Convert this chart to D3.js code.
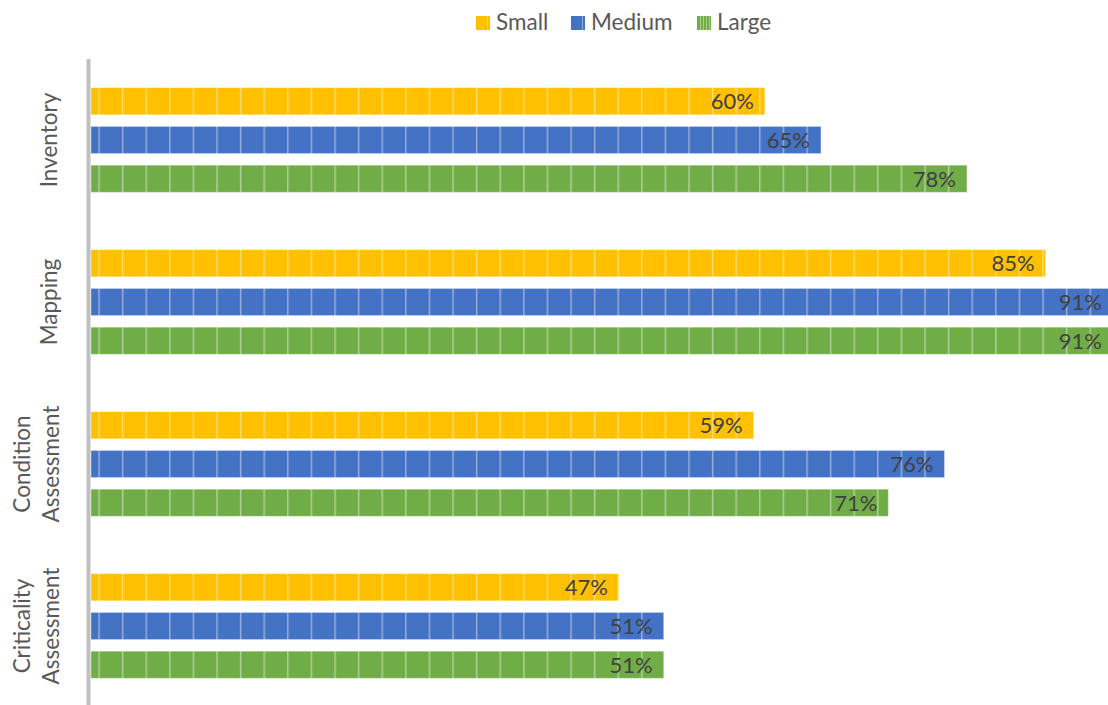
<html>
<meta charset='utf-8'>
<head>
    <script src="https://d3js.org/d3.v7.min.js"></script>
    <style>
      body { margin: 0; background: #fff; }
      text { font-family: Lato, "Open Sans", sans-serif; }
    </style>
</head>
<body>
<div id='viz'></div>
<script>
    // data
    let categories = ['Inventory', 'Mapping', 'Condition Assessment', 'Criticality Assessment'];
    let catLines = [['Inventory'], ['Mapping'], ['Condition', 'Assessment'], ['Criticality', 'Assessment']];
    let seriesNames = ['Small', 'Medium', 'Large'];
    let small = [0.60, 0.85, 0.59, 0.47];
    let medium = [0.65, 0.91, 0.76, 0.51];
    let large = [0.78, 0.91, 0.71, 0.51];
    let colors = ['#FFC000', '#4472C4', '#70AD47'];

    let rows = [];
    categories.forEach((c, i) => {
      rows.push({cat: c, s: 'Small', v: small[i]});
      rows.push({cat: c, s: 'Medium', v: medium[i]});
      rows.push({cat: c, s: 'Large', v: large[i]});
    });

    let width = 1108, height = 705;
    let svg = d3.select('#viz').append('svg')
                .attr('width', width)
                .attr('height', height);

    let defs = svg.append('defs');
    seriesNames.forEach((s, i) => {
      let p = defs.append('pattern')
        .attr('id', 'pat-' + s)
        .attr('patternUnits', 'userSpaceOnUse')
        .attr('x', 98.3)
        .attr('y', 0)
        .attr('width', 23.6)
        .attr('height', 10);
      p.append('rect').attr('width', 23.6).attr('height', 10).attr('fill', colors[i]);
      p.append('rect').attr('x', 0).attr('width', 1.4).attr('height', 10)
        .attr('fill', '#fff').attr('opacity', 0.45);
    });

    let x = d3.scaleLinear().domain([0, 1]).range([91, 1214]);
    let y = d3.scaleBand().domain(categories).range([59, 707]);
    let ySub = d3.scaleBand().domain(seriesNames).range([0, y.bandwidth()])
                 .paddingInner(0.3).paddingOuter(0.74);

    // bars
    svg.append('g').selectAll('rect')
      .data(rows)
      .join('rect')
      .attr('x', x(0))
      .attr('y', d => y(d.cat) + ySub(d.s))
      .attr('width', d => x(d.v) - x(0))
      .attr('height', ySub.bandwidth())
      .attr('fill', d => 'url(#pat-' + d.s + ')')
      .attr('stroke', '#fff')
      .attr('stroke-opacity', 0.35)
      .attr('stroke-width', 1);

    // data labels
    svg.append('g').selectAll('text')
      .data(rows)
      .join('text')
      .attr('x', d => x(d.v) - 11)
      .attr('y', d => y(d.cat) + ySub(d.s) + ySub.bandwidth() / 2)
      .attr('dy', '0.36em')
      .attr('text-anchor', 'end')
      .attr('font-size', '22px')
      .attr('fill', '#404040')
      .text(d => Math.round(d.v * 100) + '%');

    // vertical axis line
    svg.append('line')
      .attr('x1', 88.5).attr('x2', 88.5)
      .attr('y1', 59).attr('y2', height)
      .attr('stroke', '#BFBFBF')
      .attr('stroke-width', 4);

    // category labels, rotated
    let cl = svg.append('g').selectAll('text')
      .data(catLines)
      .join('text')
      .attr('transform', (d, i) => {
        let cy = y(categories[i]) + y.bandwidth() / 2;
        return 'translate(0,' + cy + ') rotate(-90)';
      })
      .attr('text-anchor', 'middle')
      .attr('font-size', '22.5px')
      .attr('fill', '#595959');
    cl.each(function(lines) {
      let t = d3.select(this);
      let base = lines.length == 1 ? [57] : [30, 59];
      lines.forEach((ln, j) => {
        t.append('tspan').attr('x', 0).attr('y', base[j]).text(ln);
      });
    });

    // legend
    let legX = [476, 571, 697];
    let leg = svg.append('g');
    seriesNames.forEach((s, i) => {
      leg.append('rect')
        .attr('x', legX[i]).attr('y', 16)
        .attr('width', 14).attr('height', 14)
        .attr('fill', colors[i]);
      if (s == 'Large') {
        [3, 6, 9, 12].forEach(o => {
          leg.append('rect').attr('x', legX[i] + o).attr('y', 16)
            .attr('width', 0.8).attr('height', 14)
            .attr('fill', '#fff').attr('opacity', 0.5);
        });
      } else {
        leg.append('rect').attr('x', legX[i] + 11).attr('y', 16)
          .attr('width', 0.8).attr('height', 14)
          .attr('fill', '#fff').attr('opacity', 0.5);
      }
      leg.append('text')
        .attr('x', legX[i] + 20).attr('y', 30)
        .attr('font-size', '22.5px')
        .attr('fill', '#595959')
        .text(s);
    });
</script>
</body>
</html>
